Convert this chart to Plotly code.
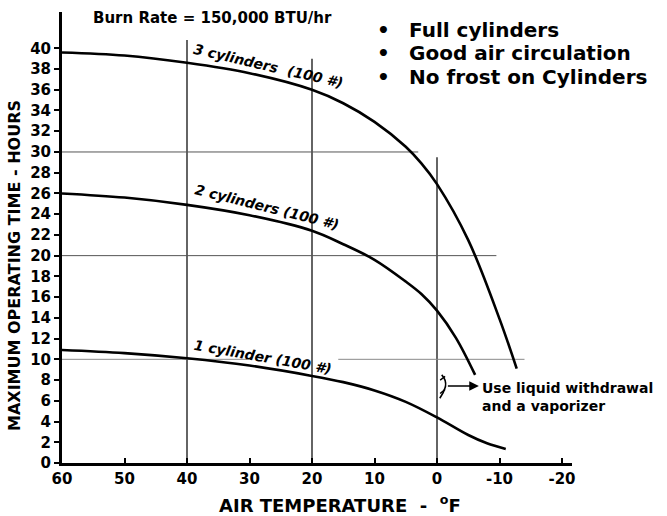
import plotly.graph_objects as go

# ---- data ----
temps_3 = [60, 50, 40, 30, 20, 15, 10, 5, 2.5, 0, -5, -10, -12.75]
hours_3 = [39.6, 39.3, 38.6, 37.6, 36.0, 34.7, 32.9, 30.5, 28.9, 26.9, 21.5, 13.9, 9.1]

temps_2 = [60, 50, 40, 30, 20, 15, 10, 5, 2.5, 0, -3, -6.1]
hours_2 = [26.0, 25.6, 24.9, 23.9, 22.4, 21.1, 19.6, 17.5, 16.3, 14.7, 12.1, 8.5]

temps_1 = [60, 50, 40, 30, 20, 15, 10, 5, 0, -5, -8, -11]
hours_1 = [10.9, 10.6, 10.1, 9.4, 8.4, 7.8, 7.0, 5.9, 4.4, 2.7, 1.9, 1.35]

x_ticks = [60, 50, 40, 30, 20, 10, 0, -10, -20]
y_ticks = list(range(0, 41, 2))

# partial reference lines (temperature, top hours)
v_lines_x = [40, 20, 0]
v_lines_top = [40.8, 39.0, 29.5]
# horizontal reference lines (hours, from temp, to temp)
h_lines = [(30, 60, 3), (20, 60, -9.5)]
h10_segments = [(60, 30.4), (15.8, -14)]

bullets = ["Full cylinders", "Good air circulation", "No frost on Cylinders"]

FONT = "DejaVu Sans"

fig = go.Figure()

# vertical reference lines
vx, vy = [], []
for x, top in zip(v_lines_x, v_lines_top):
    vx += [x, x, None]
    vy += [0, top, None]
fig.add_trace(go.Scatter(x=vx, y=vy, mode="lines",
                         line=dict(color="#111111", width=1.3),
                         hoverinfo="skip", showlegend=False))
# horizontal reference lines
hx, hy = [], []
for yv, a, b in h_lines:
    hx += [a, b, None]
    hy += [yv, yv, None]
fig.add_trace(go.Scatter(x=hx, y=hy, mode="lines",
                         line=dict(color="#555555", width=1),
                         hoverinfo="skip", showlegend=False))
hx, hy = [], []
for a, b in h10_segments:
    hx += [a, b, None]
    hy += [10, 10, None]
fig.add_trace(go.Scatter(x=hx, y=hy, mode="lines",
                         line=dict(color="#8a8a8a", width=1),
                         hoverinfo="skip", showlegend=False))

for tx, hy_ in [(temps_3, hours_3), (temps_2, hours_2), (temps_1, hours_1)]:
    fig.add_trace(go.Scatter(x=tx, y=hy_, mode="lines",
                             line=dict(color="black", width=2.6, shape="spline", smoothing=1.0),
                             showlegend=False))

anns = []
# curve labels
for txt, x, y, ang in [("3 cylinders&nbsp;&nbsp;(100 #)", 26.9, 38.3, 13),
                       ("2 cylinders (100 #)", 27.2, 24.7, 14),
                       ("1 cylinder (100 #)", 27.8, 10.2, 10)]:
    anns.append(dict(x=x, y=y, xref="x", yref="y", text=txt, showarrow=False,
                     textangle=ang, xanchor="center", yanchor="middle",
                     font=dict(family=FONT, size=14, color="black", weight="bold", style="italic")))

# title
anns.append(dict(x=0.296, y=0.987, xref="paper", yref="paper",
                 text="Burn Rate = 150,000 BTU/hr", showarrow=False,
                 xanchor="center", yanchor="middle",
                 font=dict(family=FONT, size=15, color="black", weight="bold")))

# bullets
for txt, yp in zip(bullets, [0.960, 0.909, 0.856]):
    anns.append(dict(x=0.631, y=yp, xref="paper", yref="paper", text="•",
                     showarrow=False, xanchor="center", yanchor="middle",
                     font=dict(family=FONT, size=20, color="black", weight="bold")))
    anns.append(dict(x=0.676, y=yp, xref="paper", yref="paper", text=txt,
                     showarrow=False, xanchor="left", yanchor="middle",
                     font=dict(family=FONT, size=20, color="black", weight="bold")))

# axis titles
anns.append(dict(x=0.545, y=-0.0915, xref="paper", yref="paper",
                 text="AIR TEMPERATURE&nbsp;&nbsp;-&nbsp;&nbsp;<sup>o</sup>F", showarrow=False,
                 xanchor="center", yanchor="middle",
                 font=dict(family=FONT, size=18, color="black", weight="bold")))
anns.append(dict(x=-0.092, y=0.437, xref="paper", yref="paper",
                 text="MAXIMUM OPERATING TIME - HOURS", showarrow=False, textangle=-90,
                 xanchor="center", yanchor="middle",
                 font=dict(family=FONT, size=16, color="black", weight="bold")))

# liquid withdrawal note
anns.append(dict(x=-6.85, y=6.4, xref="x", yref="y",
                 text="Use liquid withdrawal<br>and a vaporizer", showarrow=False,
                 xanchor="left", yanchor="middle", align="left",
                 font=dict(family=FONT, size=14, color="black", weight="bold")))
anns.append(dict(x=-6.7, y=7.42, xref="x", yref="y", ax=-1.5, ay=7.42,
                 axref="x", ayref="y", text="", showarrow=True,
                 arrowhead=2, arrowsize=1.2, arrowwidth=1.6, arrowcolor="black"))

fig.update_layout(annotations=anns)

# break mark next to the arrow
fig.add_shape(type="path", xref="x", yref="y",
              path="M -0.75,8.5 Q -1.55,8.0 -1.35,7.35 Q -1.1,6.8 -0.45,6.25",
              line=dict(color="black", width=1.6))
fig.add_shape(type="path", xref="x", yref="y",
              path="M -0.5,8.0 L -1.3,8.35 M -0.5,6.7 L -1.3,7.1",
              line=dict(color="black", width=1.4))

fig.update_xaxes(range=[60, -21.6], autorange=False, automargin=False, tickvals=x_ticks,
                 ticktext=[str(v) for v in x_ticks],
                 showgrid=False, zeroline=False, showline=True, linecolor="black",
                 linewidth=3, ticks="inside", ticklen=5, tickwidth=2, tickcolor="black",
                 tickfont=dict(family=FONT, size=15, color="black", weight="bold"))
fig.update_yaxes(range=[0, 43.5], autorange=False, automargin=False, tickvals=y_ticks,
                 ticktext=[str(v) for v in y_ticks],
                 showgrid=False, zeroline=False, showline=True, linecolor="black",
                 linewidth=3, ticks="outside", ticklen=5, tickwidth=1.5, tickcolor="black",
                 tickfont=dict(family=FONT, size=15, color="black", weight="bold"))

fig.update_layout(width=667, height=516,
                  margin=dict(l=62, r=95, t=12, b=53, pad=0, autoexpand=False),
                  plot_bgcolor="white", paper_bgcolor="white",
                  showlegend=False)

fig.write_html("out.html", config={"displayModeBar": False},
               post_script="document.body.style.margin='0';document.body.style.overflow='hidden';")
